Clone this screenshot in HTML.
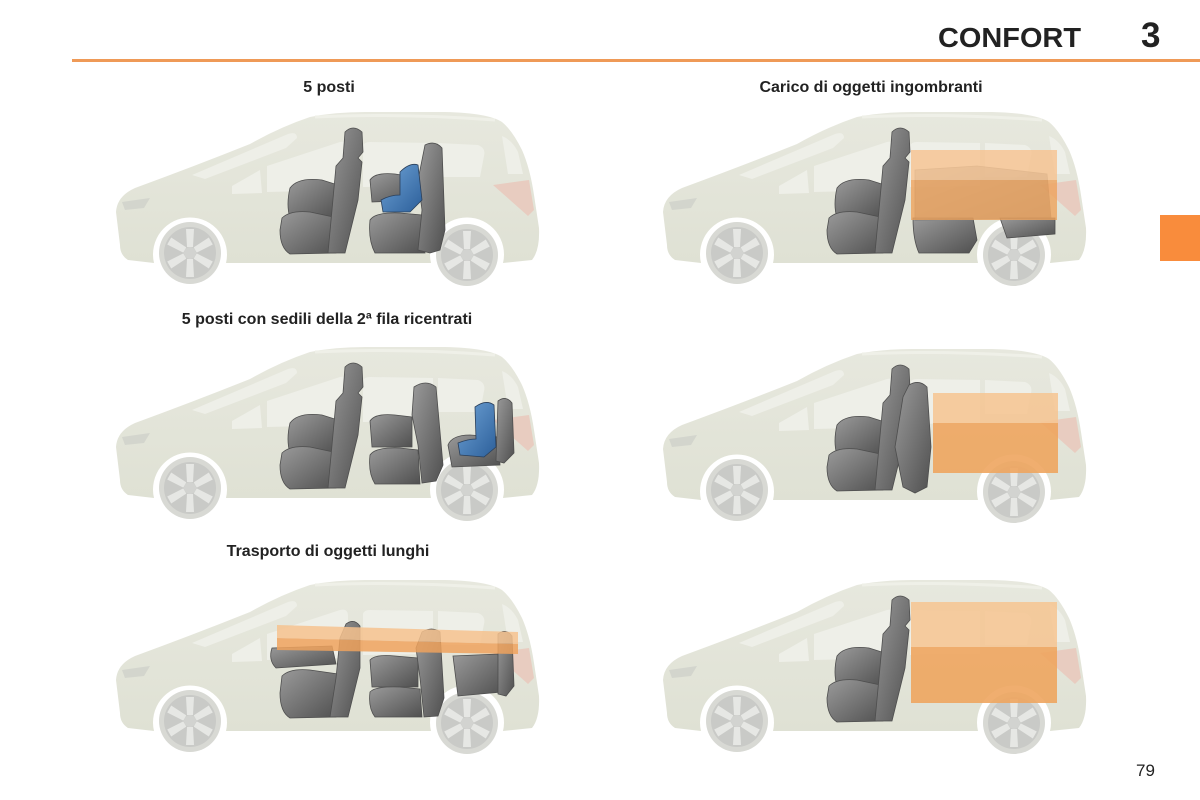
<!DOCTYPE html>
<html><head><meta charset="utf-8"><style>
html,body{margin:0;padding:0;background:#fff;}
svg{display:block;}
text{font-family:"Liberation Sans",Arial,sans-serif;}
</style></head><body>
<svg width="1200" height="800" viewBox="0 0 1200 800" xmlns="http://www.w3.org/2000/svg">
<defs>
  <linearGradient id="bodyG" x1="0" y1="0" x2="0" y2="1">
    <stop offset="0" stop-color="#e7e8de"/>
    <stop offset="1" stop-color="#dfe1d4"/>
  </linearGradient>
  <linearGradient id="seatG" x1="0" y1="0" x2="1" y2="1">
    <stop offset="0" stop-color="#9a9a9a"/>
    <stop offset="0.6" stop-color="#6e6e6e"/>
    <stop offset="1" stop-color="#505050"/>
  </linearGradient>
  <linearGradient id="blueG" x1="0" y1="0" x2="1" y2="1">
    <stop offset="0" stop-color="#6fa3d6"/>
    <stop offset="1" stop-color="#2c5f9a"/>
  </linearGradient>
  <g id="wheel">
    <circle cx="0" cy="0" r="31" fill="#d8d9d4"/>
    <circle cx="0" cy="0" r="26" fill="#c9cac7"/>
    <g fill="#e6e7e4">
      <path d="M-3,-6 L-4,-24 L4,-24 L3,-6 Z"/>
      <path d="M-3,-6 L-4,-24 L4,-24 L3,-6 Z" transform="rotate(60)"/>
      <path d="M-3,-6 L-4,-24 L4,-24 L3,-6 Z" transform="rotate(120)"/>
      <path d="M-3,-6 L-4,-24 L4,-24 L3,-6 Z" transform="rotate(180)"/>
      <path d="M-3,-6 L-4,-24 L4,-24 L3,-6 Z" transform="rotate(240)"/>
      <path d="M-3,-6 L-4,-24 L4,-24 L3,-6 Z" transform="rotate(300)"/>
    </g>
    <circle cx="0" cy="0" r="6" fill="#d2d3d0"/>
  </g>
  <g id="car">
    <path d="M20,145 L16,112 Q17,96 35,88 Q95,66 150,44 Q180,27 210,17 Q235,12 265,12 L345,12 Q388,13 402,22 Q412,30 422,50 Q430,68 434,95 L439,128 Q440,150 432,160 L403,163 A37,37 0 1 0 331,163 L126,163 A37,37 0 1 0 54,163 L28,160 Q20,155 20,145 Z" fill="url(#bodyG)"/>
    <path d="M215,17 Q300,13 395,20" stroke="#eff0e8" stroke-width="3" fill="none"/>
    <path d="M92,75 L188,34 Q197,31 197,38 L186,48 L105,79 Z" fill="#eeefe8"/>
    <path d="M132,86 L160,70 L162,93 L132,94 Z" fill="#eeefe8"/>
    <path d="M167,66 L240,42 Q248,40 248,48 L248,90 L167,92 Z" fill="#eeefe8"/>
    <path d="M263,46 Q264,42 270,42 L333,43 L333,86 L263,87 Z" fill="#eeefe8"/>
    <path d="M338,43 L378,45 Q386,48 384,56 L380,77 L338,77 Z" fill="#eeefe8"/>
    <path d="M402,36 Q412,40 418,52 L423,74 L408,74 Z" fill="#eeefe8"/>
    <path d="M393,85 L429,80 L434,110 L428,116 Z" fill="#e8ccc0"/>
    <path d="M22,102 L50,98 L44,108 L25,110 Z" fill="#d3d5cd"/>
    <use href="#wheel" transform="translate(90,153)"/>
    <use href="#wheel" transform="translate(367,155)"/>
  </g>
  <g id="frontseat" fill="url(#seatG)" stroke="#4e4e4e" stroke-width="0.8">
    <path d="M190,88 Q198,77 222,80 L238,85 L236,118 L190,118 Q186,105 190,88 Z"/>
    <path d="M182,118 Q190,110 210,112 L238,118 L236,153 L190,154 Q180,148 180,130 Z"/>
    <path d="M245,32 Q253,24 262,32 L263,52 L258,58 L262,62 L258,100 L245,153 L228,153 L232,110 L236,66 L243,58 L244,45 Z"/>
  </g>
</defs>

<!-- header -->
<text x="938" y="47" font-size="28" font-weight="bold" fill="#222" textLength="143" lengthAdjust="spacingAndGlyphs">CONFORT</text>
<text x="1141" y="47" font-size="35" font-weight="bold" fill="#222">3</text>
<rect x="72" y="59" width="1128" height="3" fill="#ef9a57"/>
<rect x="1160" y="215" width="40" height="46" fill="#f98c3c"/>
<text x="1136" y="776" font-size="17" fill="#222">79</text>

<!-- titles -->
<text x="329" y="92" font-size="16" font-weight="bold" fill="#222" text-anchor="middle">5 posti</text>
<text x="871" y="92" font-size="16" font-weight="bold" fill="#222" text-anchor="middle">Carico di oggetti ingombranti</text>
<text x="327" y="324" font-size="16" font-weight="bold" fill="#222" text-anchor="middle">5 posti con sedili della 2ª fila ricentrati</text>
<text x="328" y="556" font-size="16" font-weight="bold" fill="#222" text-anchor="middle">Trasporto di oggetti lunghi</text>

<!-- Car 1 -->
<g transform="translate(100,100)">
  <use href="#car"/>
  <use href="#frontseat"/>
  <g fill="url(#seatG)" stroke="#4e4e4e" stroke-width="0.8">
    <path d="M270,80 Q275,72 295,74 L320,78 L320,100 L272,102 Z"/>
    <path d="M270,120 Q275,112 300,113 L322,115 L325,153 L275,153 Q268,140 270,120 Z"/>
    <path d="M325,45 Q335,40 342,48 L345,130 L340,150 L330,153 L318,150 L322,110 L318,80 Z"/>
  </g>
  <path d="M300,72 Q310,62 318,65 L322,100 L310,112 L283,112 L281,100 Q290,95 300,95 Z" fill="url(#blueG)" stroke="#2a3f5a" stroke-width="0.8"/>
</g>

<!-- Car 2 -->
<g transform="translate(647,100)">
  <use href="#car"/>
  <use href="#frontseat"/>
  <g fill="url(#seatG)" stroke="#4e4e4e" stroke-width="0.8">
    <path d="M266,118 L326,118 L330,140 L322,153 L272,153 Q266,140 266,118 Z"/>
    <path d="M353,118 L408,118 L408,134 L360,138 Z"/>
    <path d="M268,70 L330,66 L400,74 L404,118 L268,120 Z" opacity="0.55"/>
  </g>
  <rect x="264" y="50" width="146" height="30" fill="#f6c28e" opacity="0.8"/>
  <rect x="264" y="80" width="146" height="40" fill="#eea25d" opacity="0.8"/>
</g>

<!-- Car 3 -->
<g transform="translate(100,335)">
  <use href="#car"/>
  <use href="#frontseat"/>
  <g fill="url(#seatG)" stroke="#4e4e4e" stroke-width="0.8">
    <path d="M270,86 Q275,78 295,80 L312,82 L312,112 L272,112 Z"/>
    <path d="M270,120 Q275,112 300,113 L318,115 L320,149 L275,149 Q268,138 270,120 Z"/>
    <path d="M314,52 Q326,44 336,52 L343,130 L336,146 L322,148 L318,110 L312,80 Z"/>
    <path d="M348,110 Q352,100 370,100 L398,102 L400,130 L352,132 Z"/>
    <path d="M398,66 Q406,60 412,68 L414,118 L404,128 L396,126 Z"/>
  </g>
  <path d="M375,72 Q386,64 394,70 L396,112 L384,122 L360,120 L358,108 Q368,104 376,104 Z" fill="url(#blueG)" stroke="#2a3f5a" stroke-width="0.8"/>
</g>

<!-- Car 4 -->
<g transform="translate(647,337)">
  <use href="#car"/>
  <use href="#frontseat"/>
  <path d="M262,48 Q272,42 280,50 L284,110 L280,150 L268,156 L256,150 L248,110 L256,60 Z" fill="url(#seatG)" stroke="#4e4e4e" stroke-width="0.8"/>
  <rect x="286" y="56" width="125" height="30" fill="#f6c490" opacity="0.85"/>
  <rect x="286" y="86" width="125" height="50" fill="#eea55f" opacity="0.9"/>
</g>

<!-- Car 5 -->
<g transform="translate(100,568)">
  <use href="#car"/>
  <g fill="url(#seatG)" stroke="#4e4e4e" stroke-width="0.8">
    <path d="M172,80 L232,78 L236,96 L176,100 Q168,92 172,80 Z"/>
    <path d="M182,108 Q190,100 210,102 L238,106 L236,149 L190,150 Q180,144 180,125 Z"/>
    <path d="M246,56 Q254,50 260,58 L260,100 L248,149 L230,149 L236,110 L240,70 Z"/>
    <path d="M270,92 Q275,86 295,88 L318,90 L318,119 L272,119 Z"/>
    <path d="M270,124 Q275,118 300,119 L320,121 L322,149 L275,149 Q268,140 270,124 Z"/>
    <path d="M322,64 Q332,58 340,64 L344,130 L338,148 L324,149 L320,110 L316,80 Z"/>
    <path d="M353,88 L398,86 L402,124 L358,128 Z"/>
    <path d="M398,66 Q406,60 412,68 L414,118 L406,128 L398,126 Z"/>
  </g>
  <path d="M177,57 L418,64 L418,76 L177,70 Z" fill="#f6c28e" opacity="0.85"/>
  <path d="M177,70 L418,76 L418,86 L177,82 Z" fill="#eea25d" opacity="0.85"/>
</g>

<!-- Car 6 -->
<g transform="translate(647,568)">
  <use href="#car"/>
  <use href="#frontseat"/>
  <rect x="264" y="34" width="146" height="45" fill="#f6c490" opacity="0.85"/>
  <rect x="264" y="79" width="146" height="56" fill="#eea55f" opacity="0.9"/>
</g>
</svg>
</body></html>
